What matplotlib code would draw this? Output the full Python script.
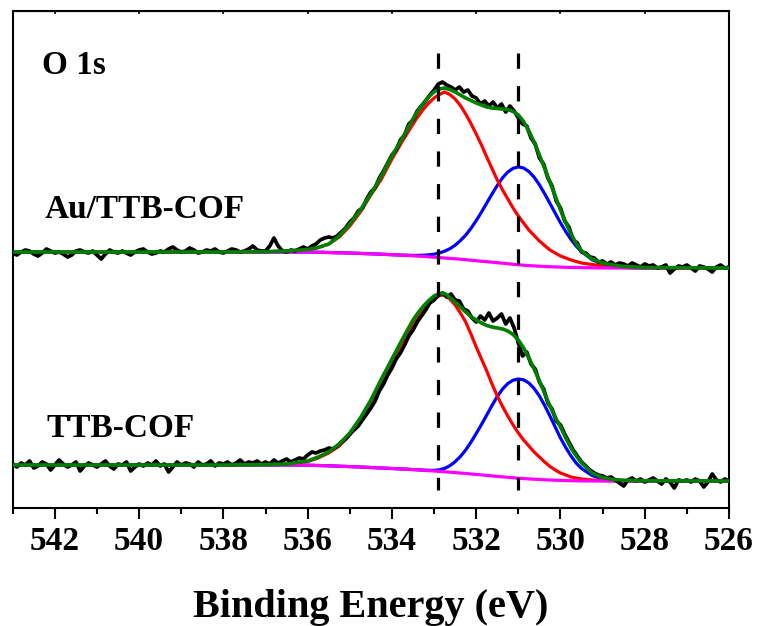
import numpy as np
import matplotlib
matplotlib.use("Agg")
import matplotlib.pyplot as plt

# O 1s XPS, intensity in arbitrary units (offset spectra)
energy_raw = np.round(np.linspace(543.0, 526.0, 171), 1)

au_raw = [
    255, 253, 256, 258, 257, 254, 252, 255, 259, 257,
    255, 256, 254, 251, 253, 257, 258, 256, 255, 257,
    253, 249, 254, 258, 256, 255, 257, 255, 253, 256,
    258, 259, 256, 254, 255, 257, 256, 259, 261, 258,
    256, 257, 260, 258, 255, 256, 258, 257, 259, 256,
    255, 257, 259, 258, 256, 257, 259, 262, 258, 257,
    257, 262, 270, 262, 257, 256, 258, 257, 259, 261,
    259, 262, 264, 268, 270, 271, 270, 272, 276, 280,
    286, 290, 297, 300, 309, 316, 320, 330, 337, 345,
    353, 358, 368, 373, 384, 388, 397, 402, 407, 413,
    418, 424, 426, 423, 421, 418, 421, 416, 418, 412,
    410, 404, 407, 402, 406, 400, 404, 396, 402, 397,
    390, 384, 382, 370, 364, 350, 344, 330, 322, 307,
    300, 287, 281, 268, 265, 256, 255, 251, 250, 246,
    247, 244, 246, 243, 245, 244, 242, 245, 243, 241,
    244, 242, 243, 240, 241, 243, 235, 239, 242, 241,
    243, 240, 237, 242, 241, 239, 236, 241, 243, 240,
    241,
]

cof_raw = [
    44, 41, 45, 43, 47, 40, 42, 46, 44, 38,
    43, 48, 44, 41, 43, 46, 37, 42, 45, 43,
    41, 44, 47, 42, 39, 44, 43, 46, 37, 41,
    44, 42, 45, 43, 47, 42, 44, 36, 41, 46,
    43, 45, 44, 41, 46, 43, 44, 47, 42, 45,
    44, 46, 43, 45, 48, 44, 46, 45, 47, 44,
    46, 44, 48, 45, 47, 49, 46, 48, 50, 49,
    53, 56, 55, 57, 58, 60, 59, 62, 66, 69,
    74, 78, 82, 88, 94, 100, 107, 117, 124, 133,
    140, 149, 155, 163, 172, 178, 186, 192, 198, 205,
    208, 213, 215, 211, 214, 208, 207, 199, 197, 190,
    186, 192, 188, 195, 187, 190, 194, 184, 190, 180,
    165, 152, 156, 144, 139, 126, 119, 105, 99, 87,
    83, 74, 66, 58, 52, 46, 42, 38, 35, 33,
    32, 30, 31, 28, 25, 22, 28, 30, 27, 29,
    26, 28, 30, 27, 24, 29, 26, 20, 28, 27,
    28, 26, 29, 27, 21, 26, 34, 28, 26, 29,
    27,
]

energy_fit = [543.0, 538.0, 537.0, 536.5, 536.0, 535.75, 535.5, 535.25, 535.0,
              534.75, 534.5, 534.25, 534.0, 533.75,
              533.5, 533.375, 533.25, 533.125, 533.0, 532.875, 532.75, 532.625,
              532.5, 532.375, 532.25, 532.125, 532.0, 531.875, 531.75, 531.625,
              531.5, 531.375, 531.25, 531.125, 531.0, 530.875, 530.75, 530.625,
              530.5, 530.375, 530.25, 530.125, 530.0, 529.875, 529.75, 529.625,
              529.5,
              529.25, 529.0, 528.75, 528.5, 528.0, 526.0]

# Au/TTB-COF fit
au_bg = [256, 256, 256, 256, 256, 255.8, 255.5, 255.2, 255.0, 254.6, 254.2, 253.8, 253.3, 252.8,
         252.2, 251.9, 251.6, 251.2, 250.8, 250.4, 250.0, 249.6, 249.2, 248.8, 248.3, 247.8,
         247.3, 246.8, 246.3, 245.8, 245.3, 244.8, 244.3, 243.7, 243.2, 242.8, 242.4, 242.1,
         241.8, 241.5, 241.3, 241.1, 240.9, 240.7, 240.6, 240.5, 240.4,
         240.2, 240.1, 240, 240, 240, 240]
au_peak1 = [256, 256, 256.3, 257, 258.5, 260.5, 264, 271, 282, 296, 313, 329, 349, 367,
            384, 392, 399, 405, 410, 413.5, 416, 413.5, 409, 402.5, 394, 384.5, 374, 363,
            351, 339.5, 328, 318, 309, 300, 292, 285, 278, 272.5, 267, 262.5, 258, 255,
            252, 250, 248, 246.5, 245,
            243.5, 242, 241, 240.5, 240, 240]
au_peak2 = [256, 256, 256, 256, 256, 255.8, 255.5, 255.2, 255.0, 254.6, 254.2, 253.8, 253.3, 252.9,
            252.6, 252.6, 252.8, 253.2, 253.8, 255.0, 256.8, 259.3, 262.8, 267.4, 272.9, 279.6,
            287.4, 295.9, 305.0, 314.0, 322.6, 330.2, 336.0, 339.7, 341.1, 340.0, 336.5, 330.8,
            323.2, 314.2, 304.6, 294.8, 285.2, 276.4, 268.5, 261.8, 256.3,
            248.3, 243.8, 241.5, 240.6, 240, 240]
au_env = [256, 256, 256.3, 257, 258.5, 260.5, 264, 272, 284, 298, 314, 332, 352, 370,
          389, 397.5, 405, 411.5, 416, 419, 420, 418.5, 416, 413, 410, 407.5, 405, 403,
          401, 400, 399.5, 399, 398.5, 396.5, 393, 386.5, 377, 366, 353, 339.5, 326, 312,
          298, 285.5, 274, 264.5, 257,
          249, 245, 243, 241.5, 240.5, 240]

# TTB-COF fit
cof_bg = [43, 43, 43, 43, 42.8, 42.5, 42.2, 41.8, 41.4, 41.0, 40.5, 40.0, 39.5, 39.0,
          38.4, 38.05, 37.7, 37.35, 37.0, 36.6, 36.2, 35.8, 35.4, 34.95, 34.5, 34.05, 33.6,
          33.1, 32.6, 32.1, 31.6, 31.15, 30.7, 30.25, 29.8, 29.45, 29.1, 28.8, 28.5, 28.25,
          28.0, 27.8, 27.6, 27.45, 27.3, 27.2, 27.1,
          27, 27, 27, 27, 27, 27]
cof_peak1 = [43, 43, 43.3, 44, 46.5, 50, 55, 62, 73, 88, 106, 126, 146, 166,
             184, 192, 199, 205, 209.5, 212.5, 213, 209, 203, 195, 186, 174, 161, 149, 137,
             124, 112, 101.5, 92, 83, 75, 68, 62, 56, 51, 46, 41.5, 38, 35, 33, 31, 30, 29,
             28, 27.5, 27.2, 27, 27, 27]
cof_peak2 = [43, 43, 43, 43, 42.8, 42.5, 42.2, 41.8, 41.4, 41.0, 40.5, 40.0, 39.5, 39.0,
             38.5, 38.2, 37.9, 37.7, 37.6, 38.2, 39.6, 42.3, 46.3, 51.5, 58, 65.8, 74.5, 83.5,
             93, 102.5, 111.5, 119, 124.5, 127.8, 129, 128.2, 125, 119.5, 112, 102.5, 92, 81,
             70, 60.5, 52, 44.8, 39.5,
             32.5, 29, 27.8, 27.3, 27, 27]
cof_env = [43, 43, 43.3, 44, 47, 51, 56, 64, 75, 90, 108, 129, 149, 169,
           188, 195.5, 202, 207.5, 212, 214.5, 214.5, 210.5, 206, 201, 196, 191.5, 188, 185,
           182.5, 181, 180, 179, 177, 173.5, 168, 160, 150, 139, 127, 114.5, 102, 91, 81, 70,
           60, 52, 45,
           35, 30.5, 28.5, 27.8, 27.2, 27]

peak_positions = [532.9, 531.0]
x_ticks = [542, 540, 538, 536, 534, 532, 530, 528, 526]

plt.rcParams["font.family"] = ["Liberation Serif", "DejaVu Serif"]
plt.rcParams["font.weight"] = "bold"
plt.rcParams["lines.scale_dashes"] = False

fig = plt.figure(figsize=(7.61, 6.26), dpi=100)
ax = fig.add_axes([0.0167, 0.1885, 0.9413, 0.7939])

for raw, bg, p1, p2, env in [(au_raw, au_bg, au_peak1, au_peak2, au_env),
                             (cof_raw, cof_bg, cof_peak1, cof_peak2, cof_env)]:
    ax.plot(energy_fit, p2, color="#0000ff", lw=2.3, zorder=2)
    ax.plot(energy_fit, p1, color="#ff0000", lw=2.3, zorder=2)
    ax.plot(energy_fit, bg, color="#ff00ff", lw=2.3, zorder=3)
    ax.plot(energy_raw, raw, color="black", lw=2.7, zorder=4)
    ax.plot(energy_fit, env, color="#008000", lw=2.6, zorder=5)

# draw the guide lines top-down so the dash pattern starts at the top
for e in peak_positions:
    ax.plot([e, e], [455, 18], color="black", lw=2.3,
            linestyle=(0, (11, 12.5)), zorder=6)

ax.text(542.3, 434, "O 1s", fontsize=24, fontweight="bold")
ax.text(542.24, 290, "Au/TTB-COF", fontsize=24, fontweight="bold")
ax.text(542.19, 71, "TTB-COF", fontsize=24, fontweight="bold")

ax.set_xlim(543, 526)
ax.set_ylim(0, 497)
ax.set_xticks(x_ticks)
ax.set_xticks(np.arange(543, 525, -1), minor=True)
ax.set_yticks([])
ax.tick_params(axis="x", which="major", direction="out", length=8, width=1.5,
               labelsize=24, pad=5, top=False)
ax.tick_params(axis="x", which="minor", direction="out", length=4.5, width=1.5,
               top=False)
ax.secondary_xaxis("top").tick_params(axis="x", which="both", direction="in",
                                      length=2.5, width=1.2, labeltop=False)
for lbl in ax.get_xticklabels():
    lbl.set_fontweight("bold")
for s in ax.spines.values():
    s.set_linewidth(1.5)

ax.set_xlabel("Binding Energy (eV)", fontsize=29, fontweight="bold", labelpad=23)

fig.savefig("out.png", dpi=100)
